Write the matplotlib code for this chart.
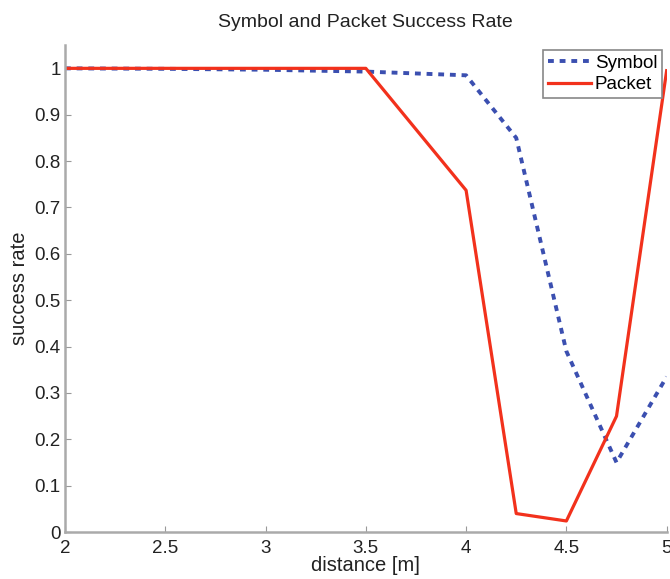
import matplotlib
matplotlib.use("Agg")
import matplotlib.pyplot as plt

# distanze e tassi di successo
distance = [2.0, 2.5, 3.0, 3.5, 4.0, 4.25, 4.5, 4.75, 5.0]
symbol_rate = [1.0, 0.999, 0.997, 0.993, 0.985, 0.85, 0.39, 0.15, 0.335]
packet_rate = [1.0, 1.0, 1.0, 1.0, 0.737, 0.04, 0.024, 0.25, 0.995]

x_ticks = [2, 2.5, 3, 3.5, 4, 4.5, 5]
x_labels = ["2", "2.5", "3", "3.5", "4", "4.5", "5"]
y_ticks = [0, 0.1, 0.2, 0.3, 0.4, 0.5, 0.6, 0.7, 0.8, 0.9, 1]
y_labels = ["0", "0.1", "0.2", "0.3", "0.4", "0.5", "0.6", "0.7", "0.8", "0.9", "1"]

plt.rcParams["font.family"] = ["Liberation Sans", "DejaVu Sans"]

fig = plt.figure(figsize=(6.7, 5.79), dpi=100)
ax = fig.add_axes([0.097, 0.081, 0.898, 0.841])

ax.plot(distance, symbol_rate, linestyle=(0, (1.5, 1.5)), color="#3b4fb0",
        linewidth=2.8, label="Symbol")
ax.plot(distance, packet_rate, color="#f2311c", linewidth=2.3, label="Packet")

ax.set_xlim(2, 5)
ax.set_ylim(0, 1.05)
ax.set_xticks(x_ticks)
ax.set_xticklabels(x_labels)
ax.set_yticks(y_ticks)
ax.set_yticklabels(y_labels)
ax.tick_params(direction="in", length=4, color="#999999", labelsize=13.5,
               labelcolor="#222222")
ax.tick_params(axis="x", pad=6)
ax.tick_params(axis="y", pad=3)

for side in ["top", "right"]:
    ax.spines[side].set_visible(False)
for side in ["left", "bottom"]:
    ax.spines[side].set_color("#aaaaaa")
    ax.spines[side].set_linewidth(1.8)

ax.set_title("Symbol and Packet Success Rate", fontsize=14, color="#222222", pad=13)
ax.set_xlabel("distance [m]", fontsize=14.5, color="#222222", labelpad=-1)
ax.set_ylabel("success rate", fontsize=14.5, color="#222222", labelpad=4)

leg = ax.legend(loc="upper right", fontsize=13.5, fancybox=False, framealpha=1,
                edgecolor="#888888", handlelength=2.3, handletextpad=0.2,
                borderpad=0.25, labelspacing=0.25, borderaxespad=0.25)
leg.get_frame().set_linewidth(1.2)

fig.savefig("out.png", dpi=100)
